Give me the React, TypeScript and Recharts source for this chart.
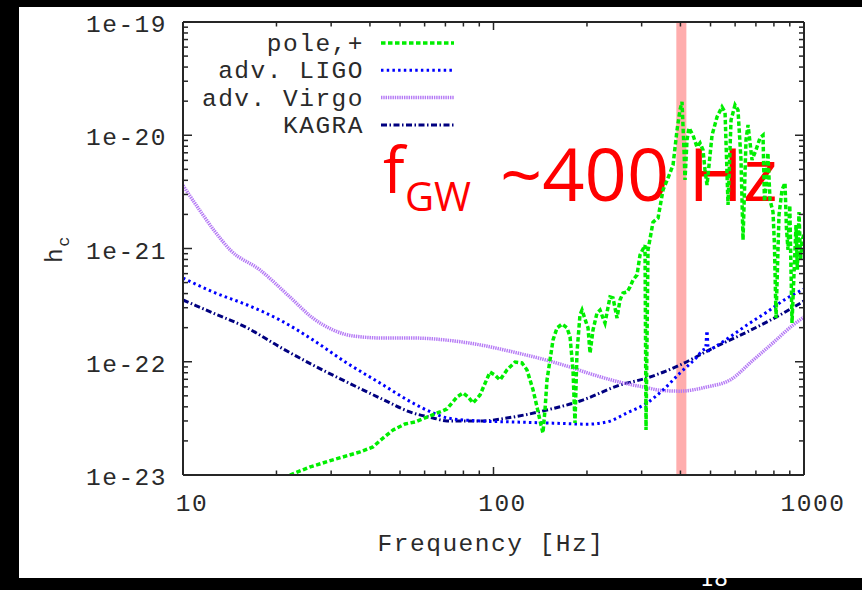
import React from 'react';
import { LineChart, Line, XAxis, YAxis, ReferenceArea } from 'recharts';

// ---------- data ----------
const poleF = [22.1, 25.7, 30.4, 37.2, 40.9, 44.1, 47.5, 51.9, 55.9, 61.1, 67.2, 70.8, 76.3, 79.8, 82.8, 85.9, 90.5, 97.4, 101.1, 104.9, 110.5, 117.3, 123.5, 128.2, 134.1, 138.1, 142.2, 144.3, 146.5, 148.7, 155.5, 160.2, 166.3, 172.5, 176.4, 180.3, 183.0, 185.7, 189.9, 192.8, 198.6, 201.6, 204.6, 209.2, 215.4, 220.3, 225.3, 228.6, 237.3, 242.6, 249.9, 255.5, 261.3, 269.2, 275.2, 281.4, 289.9, 296.4, 307.6, 309.9, 314.5, 326.4, 338.8, 351.6, 364.8, 378.6, 390.0, 398.7, 404.7, 410.7, 413.8, 420.0, 426.3, 439.1, 452.3, 462.5, 472.9, 480.0, 487.2, 505.6, 524.7, 544.4, 556.8, 569.3, 582.1, 599.6, 613.0, 626.8, 636.2, 650.5, 660.3, 680.1, 700.5, 721.6, 737.9, 746.0, 754.4, 765.0, 777.2, 794.7, 803.0, 812.6, 830.9, 849.6, 868.6, 878.0, 888.2, 900.0, 914.9, 942.4, 952.0, 963.6, 975.0, 985.4, 1000];
const poleH = [1.0e-23, 1.18e-23, 1.36e-23, 1.6e-23, 1.77e-23, 2.12e-23, 2.5e-23, 2.82e-23, 2.94e-23, 3.25e-23, 3.6e-23, 3.83e-23, 4.89e-23, 5.3e-23, 4.89e-23, 4.32e-23, 5.09e-23, 8.11e-23, 7.64e-23, 6.9e-23, 8.46e-23, 9.95e-23, 9.75e-23, 8.46e-23, 5.64e-23, 3.98e-23, 2.77e-23, 2.35e-23, 3.75e-23, 6.9e-23, 1.56e-22, 1.99e-22, 2.15e-22, 1.99e-22, 1.66e-22, 8.46e-23, 2.88e-23, 1.19e-22, 2.59e-22, 2.86e-22, 2.24e-22, 1.99e-22, 1.19e-22, 1.91e-22, 2.69e-22, 2.86e-22, 2.43e-22, 2.2e-22, 3.73e-22, 3.66e-22, 2.43e-22, 3.51e-22, 4.05e-22, 4.13e-22, 4.57e-22, 5.27e-22, 5.84e-22, 8.77e-22, 1.07e-21, 2.5e-23, 9.7e-22, 1.71e-21, 1.86e-21, 3.29e-21, 4.19e-21, 5.46e-21, 1.11e-20, 1.67e-20, 1.97e-20, 7.41e-21, 4.03e-21, 9.08e-21, 1.16e-20, 1.0e-20, 7.87e-21, 8.55e-21, 7.41e-21, 4.93e-21, 3.64e-21, 1.0e-20, 1.45e-20, 1.78e-20, 1.6e-20, 2.42e-21, 1.36e-20, 1.85e-20, 1.67e-20, 6.05e-21, 1.19e-21, 9.08e-21, 1.23e-20, 6.05e-21, 7.41e-21, 9.46e-21, 1.0e-20, 2.6e-21, 3.64e-21, 7.0e-21, 2.68e-21, 2.1e-21, 1.1e-21, 2.43e-22, 1.98e-21, 3.29e-21, 3.79e-21, 1.5e-21, 9.7e-22, 2.4e-21, 2.2e-22, 1.61e-21, 6.5e-22, 2.1e-21, 8.0e-22, 1.19e-21, 1.32e-21];

const ligoF = [10, 12.5, 16.1, 20.5, 26.2, 33.7, 43.1, 55, 63.9, 70.8, 90.5, 115.6, 155.5, 200, 232, 269, 312, 351.6, 398.7, 452, 473, 482, 487, 492, 509, 578, 655, 760, 881.6, 1000];
const ligoH = [5.49e-22, 4.13e-22, 3.17e-22, 2.34e-22, 1.56e-22, 9.75e-23, 6.49e-23, 4.32e-23, 3.53e-23, 3.19e-23, 3.0e-23, 2.94e-23, 2.87e-23, 2.81e-23, 2.94e-23, 3.53e-23, 4.32e-23, 5.64e-23, 7.96e-23, 1.10e-22, 1.27e-22, 1.30e-22, 1.87e-22, 1.25e-22, 1.32e-22, 1.66e-22, 2.11e-22, 2.75e-22, 3.65e-22, 4.39e-22];

const virgoF = [10, 11.3, 12.7, 14.2, 17.7, 22.1, 26.2, 30.4, 35.3, 44.1, 55, 74.1, 90.5, 115.6, 148.7, 180.3, 200, 255.5, 312, 343.8, 398.7, 487, 577.8, 685, 795, 921.8, 1000];
const virgoH = [3.6e-21, 2.19e-21, 1.40e-21, 9.7e-22, 6.46e-22, 3.73e-22, 2.43e-22, 1.91e-22, 1.69e-22, 1.62e-22, 1.62e-22, 1.53e-22, 1.41e-22, 1.22e-22, 1.03e-22, 8.8e-23, 8.0e-23, 6.6e-23, 5.9e-23, 5.6e-23, 5.5e-23, 6.0e-23, 6.9e-23, 1.03e-22, 1.47e-22, 2.11e-22, 2.48e-22];

const kagraF = [10, 12.5, 16.1, 20.5, 26.2, 33.7, 43.1, 55, 63.9, 70.8, 90.5, 115.6, 148.7, 190, 255.5, 312, 398.7, 509, 655, 837, 1000];
const kagraH = [3.51e-22, 2.69e-22, 1.99e-22, 1.35e-22, 9.36e-23, 6.62e-23, 4.78e-23, 3.53e-23, 3.19e-23, 3.0e-23, 3.0e-23, 3.25e-23, 3.75e-23, 4.5e-23, 6.23e-23, 7.19e-23, 9.36e-23, 1.32e-22, 1.83e-22, 2.59e-22, 3.44e-22];

const seriesNames = ['pole,+', 'adv. LIGO', 'adv. Virgo', 'KAGRA'];

const bandRange = [388, 418];

const xTicks = [10, 20, 30, 40, 50, 60, 70, 80, 90, 100, 200, 300, 400, 500, 600, 700, 800, 900, 1000];
const xMajor = [10, 100, 1000];
const xTickLabels = ['10', '100', '1000'];

const yTicks = [1e-23, 2e-23, 3e-23, 4e-23, 5e-23, 6e-23, 7e-23, 8e-23, 9e-23,
  1e-22, 2e-22, 3e-22, 4e-22, 5e-22, 6e-22, 7e-22, 8e-22, 9e-22,
  1e-21, 2e-21, 3e-21, 4e-21, 5e-21, 6e-21, 7e-21, 8e-21, 9e-21,
  1e-20, 2e-20, 3e-20, 4e-20, 5e-20, 6e-20, 7e-20, 8e-20, 9e-20, 1e-19];
const yMajor = [1e-23, 1e-22, 1e-21, 1e-20, 1e-19];
const yTickLabels = ['1e-23', '1e-22', '1e-21', '1e-20', '1e-19'];

// ---------- styles ----------
const MONO = "'Liberation Mono', 'DejaVu Sans Mono', monospace";
const SANS = "'Open Sans', 'Noto Sans', sans-serif";
const AXIS = '#262626';
const TXT = '#2a2a2a';
const FS = 24.5;
const LS = 1.5;

const styles = [
  { color: '#00ee00', width: 3.5, dash: '4.5 2.5', type: 'linear' },
  { color: '#0000ff', width: 3, dash: '2.5 3.2', type: 'monotone' },
  { color: '#b57af5', width: 3.5, dash: '1.4 0.9', type: 'monotone' },
  { color: '#000080', width: 3, dash: '6 2.5 1.5 2.5', type: 'monotone' },
];

const zip = (f: number[], h: number[]) => f.map((v, i) => ({ f: v, h: h[i] }));
const seriesData = [zip(poleF, poleH), zip(ligoF, ligoH), zip(virgoF, virgoH), zip(kagraF, kagraH)];

const majorIndex = (v: number, majors: number[]) => majors.findIndex((m) => Math.abs(v / m - 1) < 1e-6);

const labelStyle = { fontFamily: MONO, fontSize: FS, letterSpacing: LS, fill: TXT } as any;

function BottomTick(props: any) {
  const { x, y, payload } = props;
  const i = majorIndex(payload.value, xMajor);
  return (
    <g>
      <line x1={x} y1={y} x2={x} y2={y - (i >= 0 ? 8 : 4.5)} stroke={AXIS} strokeWidth={1.5} />
      {i >= 0 && (
        <text x={x + 9} y={y + 36} textAnchor="middle" style={labelStyle}>{xTickLabels[i]}</text>
      )}
    </g>
  );
}
function TopTick(props: any) {
  const { x, y, payload } = props;
  const i = majorIndex(payload.value, xMajor);
  return <line x1={x} y1={y} x2={x} y2={y + (i >= 0 ? 8 : 4.5)} stroke={AXIS} strokeWidth={1.5} />;
}
function LeftTick(props: any) {
  const { x, y, payload } = props;
  const i = majorIndex(payload.value, yMajor);
  return (
    <g>
      <line x1={x} y1={y} x2={x + (i >= 0 ? 9 : 5)} y2={y} stroke={AXIS} strokeWidth={1.5} />
      {i >= 0 && (
        <text x={x - 16} y={y + 10} textAnchor="end" style={labelStyle}>{yTickLabels[i]}</text>
      )}
    </g>
  );
}
function RightTick(props: any) {
  const { x, y, payload } = props;
  const i = majorIndex(payload.value, yMajor);
  return <line x1={x} y1={y} x2={x - (i >= 0 ? 9 : 5)} y2={y} stroke={AXIS} strokeWidth={1.5} />;
}

const axisLine = { stroke: AXIS, strokeWidth: 2 };
const abs = (l: number, t: number, w: number, h: number, z: number) =>
  ({ position: 'absolute', left: l, top: t, width: w, height: h, zIndex: z } as any);

export default function App() {
  return (
    <div style={{ ...abs(0, 0, 862, 590, 0), background: '#000', overflow: 'hidden' }}>
      <div style={{ ...abs(700, 567, 40, 24, 1), color: '#fff', fontFamily: "'DejaVu Sans', sans-serif", fontSize: 22, lineHeight: '24px' }}>18</div>
      <div style={{ ...abs(19, 7, 843, 571, 2), background: '#fff' }} />
      <svg style={abs(0, 0, 862, 590, 3)} width={862} height={590}>
        <text x={383} y={193} fill="#ff0000" style={{ fontFamily: SANS, fontSize: 64 }}>f</text>
        <text x={405} y={211} fill="#ff0000" style={{ fontFamily: SANS, fontSize: 40 }}>GW</text>
        <text x={500} y={201} fill="#ff0000" style={{ fontFamily: SANS, fontSize: 74 }}>~400 Hz</text>
      </svg>
      <div style={abs(0, 0, 862, 590, 4)}>
        <LineChart width={862} height={590} margin={{ top: 12, right: 48, bottom: 75, left: 143 }}>
          <XAxis xAxisId={0} dataKey="f" type="number" scale="log" domain={[10, 1000]} allowDataOverflow
            ticks={xTicks} interval={0} tickSize={0} tickMargin={0} tickLine={false} axisLine={axisLine}
            height={40} tick={<BottomTick />} />
          <XAxis xAxisId="top" orientation="top" dataKey="f" type="number" scale="log" domain={[10, 1000]} allowDataOverflow
            ticks={xTicks} interval={0} tickSize={0} tickMargin={0} tickLine={false} axisLine={axisLine}
            height={10} tick={<TopTick />} />
          <YAxis yAxisId={0} type="number" scale="log" domain={[1e-23, 1e-19]} allowDataOverflow
            ticks={yTicks} interval={0} tickSize={0} tickMargin={0} tickLine={false} axisLine={axisLine}
            width={40} tick={<LeftTick />} />
          <YAxis yAxisId="right" orientation="right" type="number" scale="log" domain={[1e-23, 1e-19]} allowDataOverflow
            ticks={yTicks} interval={0} tickSize={0} tickMargin={0} tickLine={false} axisLine={axisLine}
            width={10} tick={<RightTick />} />
          <ReferenceArea xAxisId={0} yAxisId={0} x1={bandRange[0]} x2={bandRange[1]} fill="#ffadad" fillOpacity={1} stroke="none" ifOverflow="visible" />
          {[3, 2, 1, 0].map((k) => (
            <Line key={k} xAxisId={0} yAxisId={0} data={seriesData[k]} dataKey="h" name={seriesNames[k]}
              type={styles[k].type as any} stroke={styles[k].color} strokeWidth={styles[k].width}
              strokeDasharray={styles[k].dash} dot={false} activeDot={false} isAnimationActive={false} />
          ))}
        </LineChart>
      </div>
      <svg style={{ ...abs(0, 0, 862, 590, 5), pointerEvents: 'none' }} width={862} height={590}>
        {seriesNames.map((n, k) => (
          <g key={n}>
            <text x={364} y={51 + k * 27.3} textAnchor="end" style={labelStyle}>{n}</text>
            <line x1={381} x2={454} y1={43 + k * 27.3} y2={43 + k * 27.3} stroke={styles[k].color}
              strokeWidth={styles[k].width} strokeDasharray={styles[k].dash} />
          </g>
        ))}
        <text x={491} y={551} textAnchor="middle" style={labelStyle}>Frequency [Hz]</text>
        <g transform="translate(62,263) rotate(-90)">
          <text x={0} y={0} style={labelStyle}>h<tspan dy={7} style={{ fontSize: 17 }}>c</tspan></text>
        </g>
      </svg>
    </div>
  );
}
